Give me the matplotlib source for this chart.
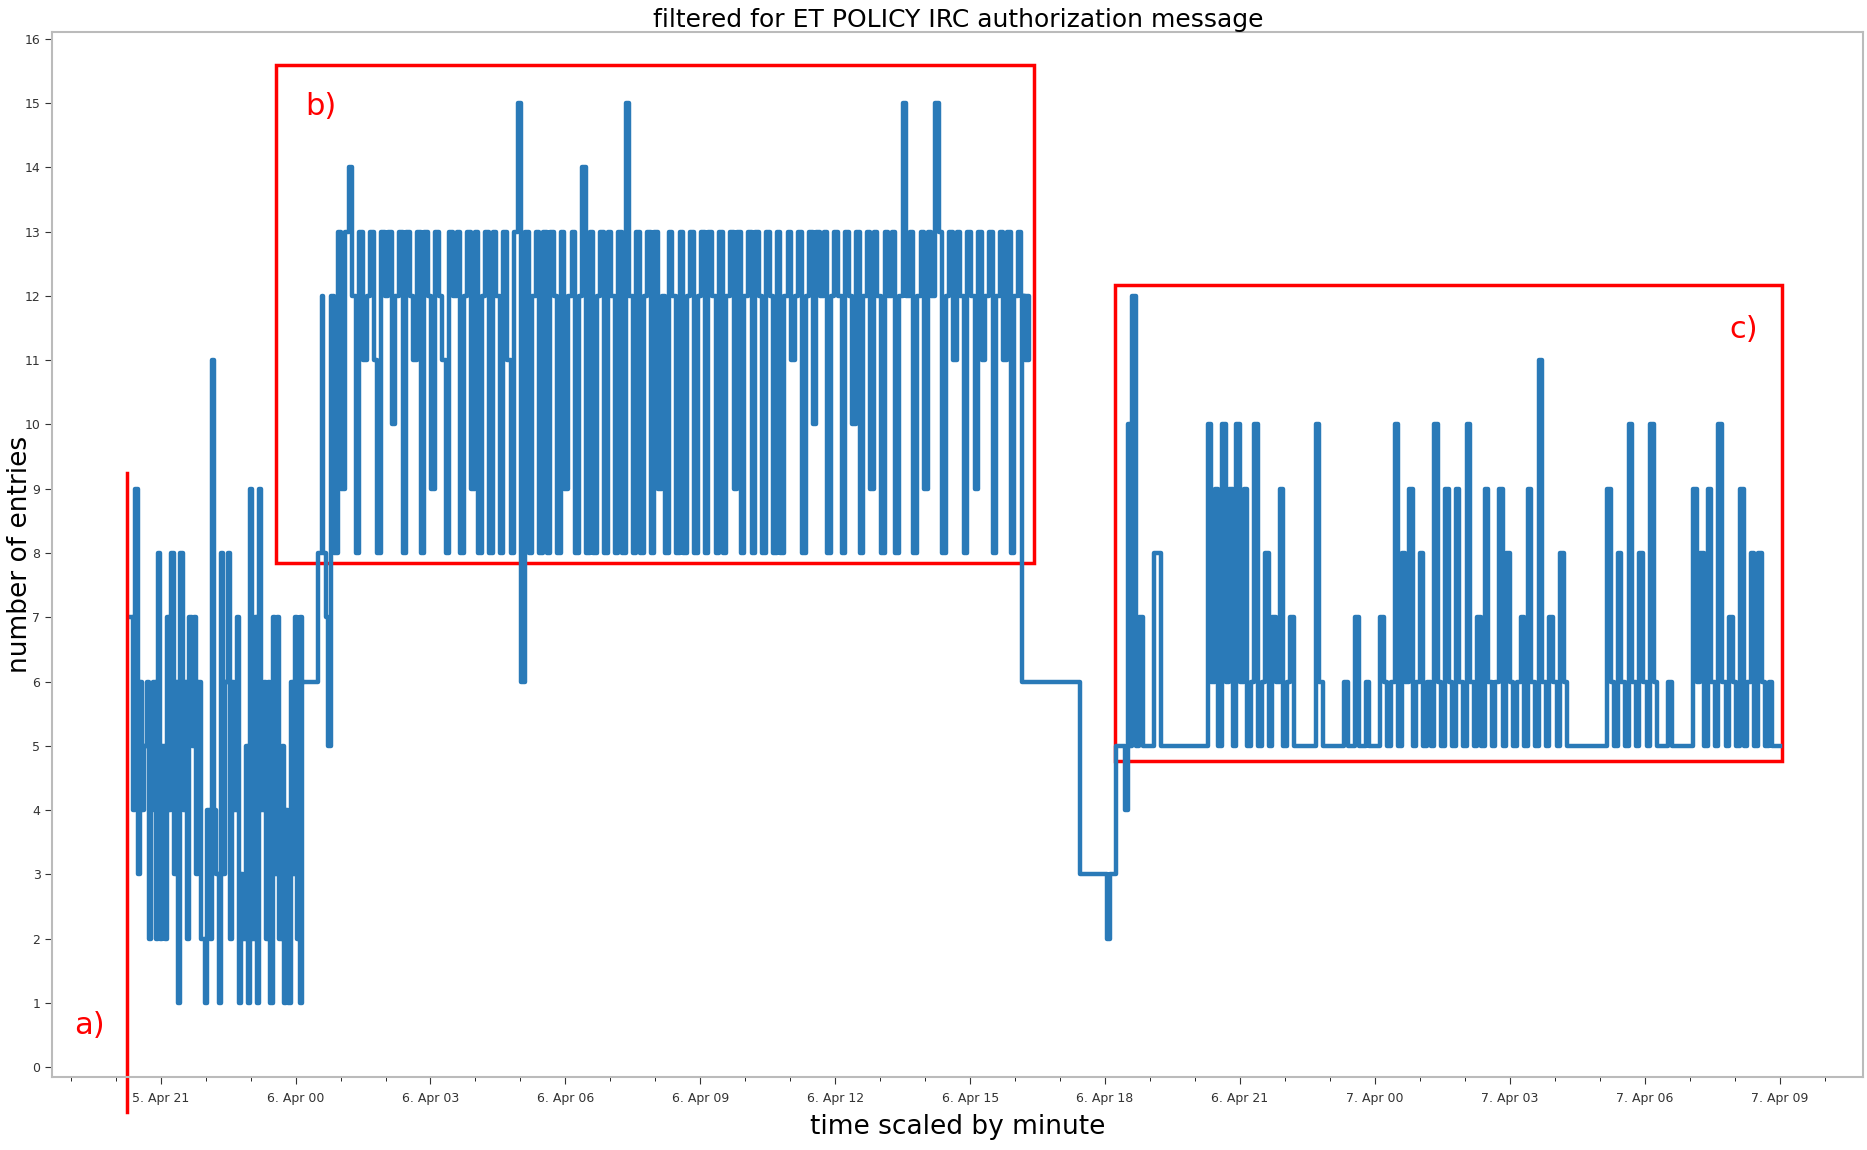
import datetime as dt
import matplotlib
matplotlib.use("Agg")
import matplotlib.pyplot as plt
from matplotlib.patches import Rectangle
from matplotlib.ticker import MultipleLocator, FuncFormatter
import numpy as np

# ── Data (x in hours since 5 Apr 21:00) ───────────────────────────────────
T0 = dt.datetime(2000, 4, 5, 21)
STEP_A, START_A = 0.05, -0.66
vals_a = [7, 4, 9, 3, 6, 4, 5, 6, 2, 4, 6, 2, 8, 2, 5, 2, 7, 4, 8, 3,
          6, 1, 8, 4, 6, 2, 7, 5, 7, 3, 6, 2, 2, 1, 4, 2, 11, 4, 3, 1,
          8, 3, 6, 8, 2, 6, 4, 7, 1, 3, 2, 5, 1, 9, 2, 7, 1, 9, 4, 6,
          2, 6, 1, 7, 3, 7, 2, 5, 1, 4, 1, 6, 3, 7, 2, 7, 1]

trans1_h = [3.10, 3.45, 3.50, 3.58, 3.62, 3.68, 3.73]
trans1_v = [6, 6, 8, 12, 8, 7, 5]

STEP_B, START_B = 0.08, 3.78
vals_b = [12, 8, 13, 9, 13, 14, 12, 8, 13, 11, 12, 13, 11, 8, 13, 12, 13, 10, 12, 13,
          8, 13, 12, 11, 13, 8, 13, 12, 9, 13, 12, 11, 8, 13, 12, 13, 8, 12, 13, 9,
          13, 8, 12, 13, 8, 13, 12, 8, 13, 11, 8, 13, 15, 6, 13, 8, 12, 13, 8, 13,
          8, 13, 12, 8, 13, 9, 12, 13, 8, 12, 14, 8, 13, 8, 12, 13, 8, 13, 12, 8,
          13, 8, 15, 12, 8, 13, 8, 12, 13, 8, 13, 9, 12, 8, 13, 12, 8, 13, 8, 12,
          13, 8, 12, 13, 8, 13, 12, 8, 13, 8, 12, 13, 9, 13, 8, 12, 13, 8, 13, 12,
          8, 13, 12, 8, 13, 8, 12, 13, 11, 12, 13, 8, 12, 13, 10, 13, 12, 13, 8, 12,
          13, 12, 8, 13, 12, 10, 13, 8, 12, 13, 9, 13, 12, 8, 13, 12, 13, 8, 12, 15,
          12, 13, 8, 12, 13, 9, 13, 12, 15, 13, 8, 12, 13, 11, 13, 12, 8, 13, 12, 9,
          13, 11, 12, 13, 8, 12, 13, 11, 13, 8, 12, 13, 12, 11, 12]

trans2_h = [19.15, 20.40, 20.45, 21.00, 21.05, 21.10, 21.20, 21.25, 21.40, 21.45, 21.50, 21.55]
trans2_v = [6, 6, 3, 3, 2, 3, 3, 5, 5, 4, 10, 5]

STEP_C, START_C = 0.08, 21.6
vals_c = [12, 5, 7, 5, 5, 5, 8, 8, 5, 5, 5, 5, 5, 5, 5, 5, 5, 5, 5, 5,
          5, 10, 6, 9, 5, 10, 6, 9, 5, 10, 6, 9, 5, 6, 10, 5, 6, 8, 5, 7,
          6, 9, 5, 6, 7, 5, 5, 5, 5, 5, 5, 10, 6, 5, 5, 5, 5, 5, 5, 6,
          5, 5, 7, 5, 5, 6, 5, 5, 5, 7, 6, 5, 6, 10, 5, 8, 6, 9, 5, 6,
          8, 5, 6, 5, 10, 6, 5, 9, 6, 5, 9, 6, 5, 10, 6, 5, 7, 5, 9, 6,
          5, 6, 9, 5, 8, 6, 5, 6, 7, 5, 9, 6, 5, 11, 6, 5, 7, 6, 5, 8,
          6, 5, 5, 5, 5, 5, 5, 5, 5, 5, 5, 5, 9, 6, 5, 8, 6, 5, 10, 6,
          5, 8, 6, 5, 10, 6, 5, 5, 5, 6, 5, 5, 5, 5, 5, 5, 9, 6, 8, 5,
          9, 6, 5, 10, 6, 5, 7, 6, 5, 9, 5, 6, 8, 5, 8, 6, 5, 6, 5, 5, 5]

hours = np.concatenate([
    START_A + STEP_A * np.arange(len(vals_a)), trans1_h,
    START_B + STEP_B * np.arange(len(vals_b)), trans2_h,
    START_C + STEP_C * np.arange(len(vals_c)),
])
values = np.concatenate([vals_a, trans1_v, vals_b, trans2_v, vals_c])

# ── Plot ───────────────────────────────────────────────────────────────────
fig = plt.figure(figsize=(18.67, 11.5), dpi=100)
ax = fig.add_axes([0.028, 0.0635, 0.97, 0.9085])
ax.plot(hours, values, color="#2A7AB8", linewidth=3.2, drawstyle="steps-post")

ax.set_xlim(-2.41, 37.86)
ax.set_ylim(-0.15, 16.1)
ax.yaxis.set_major_locator(MultipleLocator(1))
ax.xaxis.set_major_locator(MultipleLocator(3))
ax.xaxis.set_minor_locator(MultipleLocator(1))


def fmt(h, _):
    d = T0 + dt.timedelta(hours=h)
    return f"{d.day}. {d:%b %H}"


ax.xaxis.set_major_formatter(FuncFormatter(fmt))
ax.tick_params(axis="both", labelsize=9, colors="#333333", length=5)
ax.tick_params(axis="x", which="minor", length=3)
ax.tick_params(axis="x", pad=6)
for sp in ax.spines.values():
    sp.set_color("#BBBBBB")
    sp.set_linewidth(1.5)

ax.set_title("filtered for ET POLICY IRC authorization message", fontsize=18, pad=4)
ax.set_xlabel("time scaled by minute", fontsize=19, labelpad=6)
ax.set_ylabel("number of entries", fontsize=19, labelpad=-6)

# red annotations
red = "#FF0000"
ax.add_patch(Rectangle((2.57, 7.85), 16.84, 7.74, fill=False, ec=red, lw=2.5))
ax.add_patch(Rectangle((21.23, 4.76), 14.83, 7.41, fill=False, ec=red, lw=2.5))
ax.plot([-0.74, -0.74], [9.24, -0.70], color=red, lw=2.5, clip_on=False)
ax.text(-1.59, 0.65, "a)", color=red, fontsize=22, ha="center", va="center")
ax.text(3.57, 14.94, "b)", color=red, fontsize=22, ha="center", va="center")
ax.text(35.2, 11.48, "c)", color=red, fontsize=22, ha="center", va="center")

fig.savefig("out.png", dpi=100)
